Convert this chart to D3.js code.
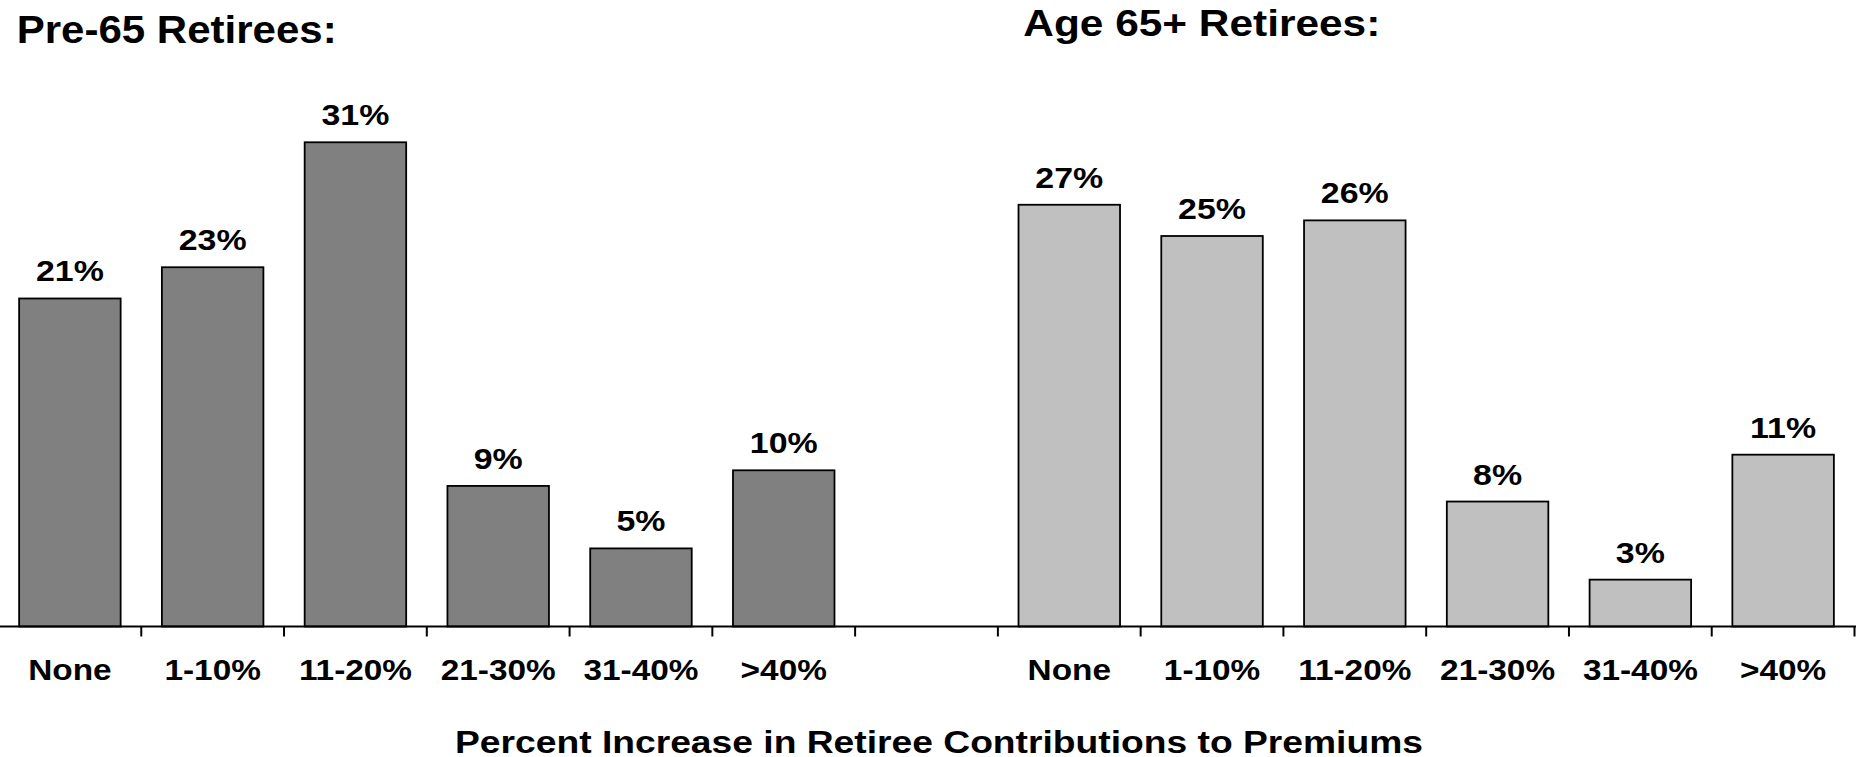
<!DOCTYPE html>
<html>
<head>
<meta charset="utf-8">
<script src="https://cdn.jsdelivr.net/npm/d3@7"></script>
<style>
  html, body { margin: 0; padding: 0; background: #fff; }
  svg { display: block; }
  text { font-family: "Liberation Sans", Arial, Helvetica, sans-serif; font-weight: bold; fill: #000; }
</style>
</head>
<body>
<svg id="chart" width="1858" height="757"></svg>
<script>
// Share of employers by size of increase in retiree premium contributions
const categories = ["None", "1-10%", "11-20%", "21-30%", "31-40%", ">40%"];
const pre65Values = [21, 23, 31, 9, 5, 10];
const age65Values = [27, 25, 26, 8, 3, 11];
const panelTitles = ["Pre-65 Retirees:", "Age 65+ Retirees:"];
const axisTitle = "Percent Increase in Retiree Contributions to Premiums";

const baseY = 626.5;
const labelY = 680;
const svg = d3.select("#chart");

// Widen a text horizontally by a factor, keeping its anchor
function widen(sel, factor) {
  sel.each(function () {
    const len = this.getComputedTextLength();
    if (len > 0) {
      d3.select(this)
        .attr("textLength", len * factor)
        .attr("lengthAdjust", "spacingAndGlyphs");
    }
  });
}

// Two panels share one category axis, separated by an empty slot
const panels = [
  { key: "pre", values: pre65Values, fill: "#808080" },
  { key: "age", values: age65Values, fill: "#c0c0c0" }
];
const slots = [
  ...categories.map(c => "pre|" + c),
  "gap",
  ...categories.map(c => "age|" + c)
];

const xSlot = d3.scaleBand().domain(slots).range([-1.5, 1854.5]).padding(0);
const xBar = d3.scaleBand().domain(slots).range([-1.5, 1854.5])
  .paddingInner(0.289).paddingOuter(0.1445);
const y = d3.scaleLinear().domain([0, 40]).range([baseY, baseY - 40 * 15.62]);

const bars = panels.flatMap(p => categories.map((c, i) => ({
  slot: p.key + "|" + c, value: p.values[i], fill: p.fill
})));

// Bars
svg.append("g").selectAll("rect").data(bars).join("rect")
  .attr("x", d => xBar(d.slot))
  .attr("y", d => y(d.value))
  .attr("width", xBar.bandwidth())
  .attr("height", d => y(0) - y(d.value))
  .attr("fill", d => d.fill)
  .attr("stroke", "#000")
  .attr("stroke-width", 1.8);

// Value labels above each bar
svg.append("g").selectAll("text").data(bars).join("text")
  .attr("x", d => xBar(d.slot) + xBar.bandwidth() / 2)
  .attr("y", d => y(d.value) - 17)
  .attr("text-anchor", "middle")
  .attr("font-size", 30)
  .text(d => d.value + "%")
  .call(widen, 1.13);

// Category axis: labels centred under slots (the spacer slot gets none)
const axis = d3.axisBottom(xSlot).tickSize(0).tickPadding(0)
  .tickValues(slots.filter(s => s !== "gap"))
  .tickFormat(s => s.split("|")[1]);
const axisG = svg.append("g").attr("transform", `translate(0,${baseY})`).call(axis);
axisG.select(".domain").remove();
axisG.attr("font-family", null).attr("font-size", null);
axisG.selectAll(".tick text")
  .attr("font-size", 29)
  .attr("dy", 0)
  .attr("y", labelY - baseY)
  .call(widen, 1.15);

svg.append("line")
  .attr("x1", 0).attr("x2", 1856)
  .attr("y1", baseY).attr("y2", baseY)
  .attr("stroke", "#000").attr("stroke-width", 2);

// Tick marks on slot boundaries
const boundaries = slots.map(s => xSlot(s) + xSlot.bandwidth()).filter(v => v > 0);
svg.append("g").selectAll("line").data(boundaries).join("line")
  .attr("x1", d => Math.min(d, 1855)).attr("x2", d => Math.min(d, 1855))
  .attr("y1", baseY).attr("y2", baseY + 10)
  .attr("stroke", "#000").attr("stroke-width", 2);

// Panel titles
svg.append("text")
  .attr("x", 16.7).attr("y", 43.3)
  .attr("font-size", 39.5)
  .attr("textLength", 320).attr("lengthAdjust", "spacingAndGlyphs")
  .text(panelTitles[0]);
svg.append("text")
  .attr("x", 1023.3).attr("y", 36)
  .attr("font-size", 36)
  .attr("textLength", 357).attr("lengthAdjust", "spacingAndGlyphs")
  .text(panelTitles[1]);

// Axis title
svg.append("text")
  .attr("x", 455).attr("y", 753.3)
  .attr("font-size", 31)
  .attr("textLength", 968).attr("lengthAdjust", "spacingAndGlyphs")
  .text(axisTitle);
</script>
</body>
</html>
